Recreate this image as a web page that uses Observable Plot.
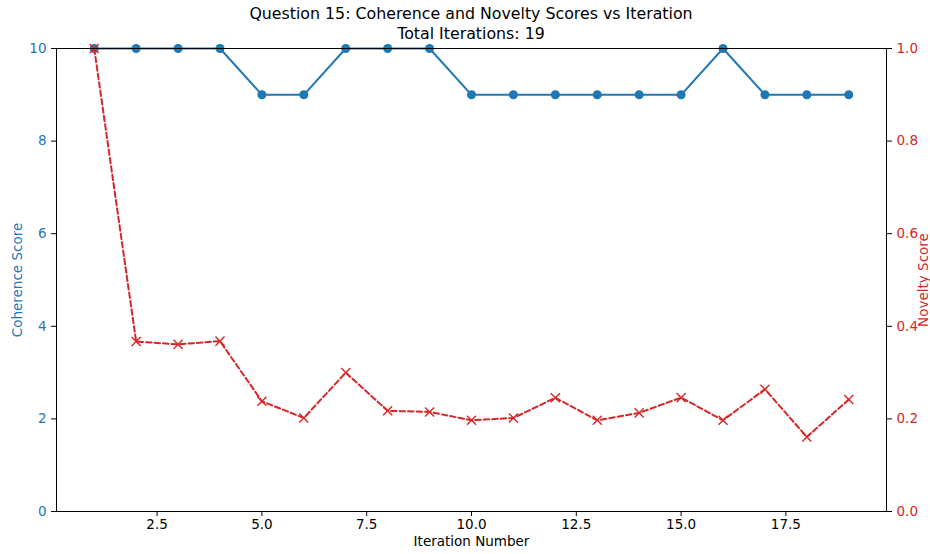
<!DOCTYPE html>
<html>
<head>
<meta charset="utf-8">
<script src="https://cdn.jsdelivr.net/npm/d3@7"></script>
<script src="https://cdn.jsdelivr.net/npm/@observablehq/plot@0.6"></script>
<style>
  html, body { margin: 0; padding: 0; background: white; overflow: hidden; }
  #wrap { width: 930px; height: 554px; position: relative; font-family: "DejaVu Sans", sans-serif; }
  #title { position: absolute; left: 0; top: 4px; width: 942px; text-align: center; font-size: 15.8px; line-height: 20px; color: #000; }
  #chart { position: absolute; left: 0; top: 0; }
</style>
</head>
<body>
<div id="wrap">
  <div id="chart"></div>
  <div id="title">Question 15: Coherence and Novelty Scores vs Iteration<br>Total Iterations: 19</div>
</div>
<script>
const iterations = [1,2,3,4,5,6,7,8,9,10,11,12,13,14,15,16,17,18,19];
const coherence = [10,10,10,10,9,9,10,10,10,9,9,9,9,9,9,10,9,9,9];
const novelty = [1.0,0.367,0.361,0.368,0.238,0.202,0.300,0.2175,0.215,0.197,0.202,0.2455,0.197,0.213,0.246,0.197,0.264,0.161,0.242];
const xTicks = [2.5,5.0,7.5,10.0,12.5,15.0,17.5];
const leftTicks = [0,2,4,6,8,10];
const rightTicks = [0.0,0.2,0.4,0.6,0.8,1.0];

const blue = "#1f77b4";
const red = "#d62728";

const data = iterations.map((it, i) => ({it, c: coherence[i], n: novelty[i]}));
const scaleRight = 10; // novelty 0..1 mapped onto coherence 0..10

const plot = Plot.plot({
  width: 930,
  height: 554,
  marginTop: 48,
  marginBottom: 43,
  marginLeft: 56,
  marginRight: 44,
  style: {fontFamily: "DejaVu Sans, sans-serif", fontSize: "13.5px", background: "white", color: "black", overflow: "visible"},
  x: {domain: [0.1, 19.9]},
  y: {domain: [0, 10]},
  marks: [
    Plot.line(data, {x: "it", y: "c", stroke: blue, strokeWidth: 2}),
    Plot.dot(data, {x: "it", y: "c", fill: blue, r: 4.5, stroke: null}),
    Plot.line(data, {x: "it", y: d => d.n * scaleRight, stroke: red, strokeWidth: 2, strokeDasharray: "5.5,3"}),
    Plot.dot(data, {x: "it", y: d => d.n * scaleRight, symbol: "times", stroke: red, strokeWidth: 1.4, r: 4.2}),
    Plot.frame({stroke: "black", strokeWidth: 1}),
    Plot.axisX(xTicks, {tickSize: 5, tickPadding: 3, tickFormat: d3.format(".1f"), label: null, fontSize: 13.5}),
    Plot.axisY(leftTicks, {anchor: "left", tickSize: 5, tickFormat: () => "", label: null}),
    Plot.axisY(leftTicks, {anchor: "left", tickSize: 0, tickPadding: 10, tickFormat: d3.format("d"), color: blue, label: null}),
    Plot.axisY(rightTicks.map(v => v * scaleRight), {anchor: "right", tickSize: 5, tickFormat: () => "", label: null}),
    Plot.axisY(rightTicks.map(v => v * scaleRight), {anchor: "right", tickSize: 0, tickPadding: 10, tickFormat: d => d3.format(".1f")(d / scaleRight), color: red, label: null}),
    Plot.text(["Iteration Number"], {frameAnchor: "bottom", dy: 34, fill: "black", fontSize: 13.5}),
    Plot.text(["Coherence Score"], {frameAnchor: "left", textAnchor: "middle", dx: -39, rotate: -90, fill: blue, fontSize: 13.5}),
    Plot.text(["Novelty Score"], {frameAnchor: "right", textAnchor: "middle", dx: 37, rotate: -90, fill: red, fontSize: 13.5})
  ]
});
document.getElementById("chart").appendChild(plot);
</script>
</body>
</html>
